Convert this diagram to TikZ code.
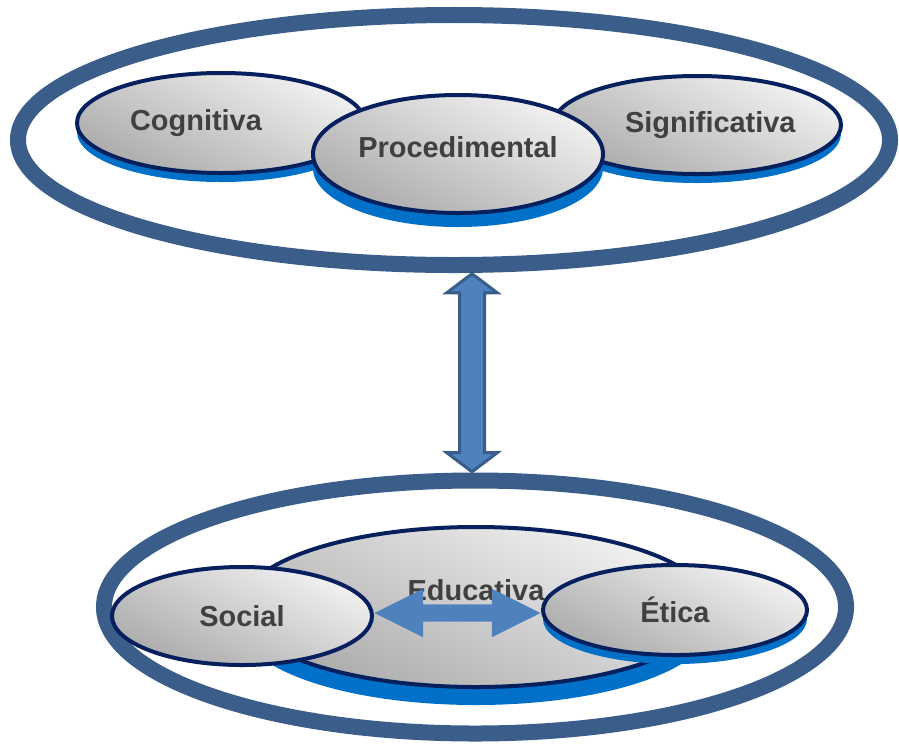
\documentclass[tikz,border=0pt]{standalone}
\usepackage{fontspec}
\setmainfont{Liberation Sans}
\usetikzlibrary{shapes.geometric,shapes.arrows,shadows}

\definecolor{ringblue}{HTML}{3A5D8A}
\definecolor{navyline}{HTML}{06205E}
\definecolor{shadowblue}{HTML}{0070C8}
\definecolor{arrowfill}{HTML}{4F81BD}
\definecolor{arrowline}{HTML}{385D8A}
\definecolor{textgray}{HTML}{404040}

\begin{document}
\begin{tikzpicture}[x=0.03cm, y=-0.03cm,
        ring/.style = {ellipse, draw=ringblue, line width=0.48cm,
            fill=white, inner sep=0},
        level/.style = {ellipse, draw=navyline, line width=0.12cm,
            inner sep=0, top color=black!5, bottom color=black!33,
            shading angle=-25, text=textgray,
            font=\bfseries\fontsize{24.7}{29}\selectfont},
        lift/.style = {drop shadow={shadow xshift=0pt,
            shadow yshift=-#1, fill=shadowblue, opacity=1}},
        lift/.default = 0.27cm,
        link/.style = {double arrow, draw=arrowline, fill=arrowfill,
            line width=0.09cm, inner xsep=0, inner ysep=0.33cm,
            double arrow head extend=0.39cm, double arrow tip angle=106},
        flatlink/.style = {double arrow, fill=arrowfill,
            inner xsep=0, inner ysep=0.255cm,
            double arrow head extend=0.465cm, double arrow tip angle=53}]

    \useasboundingbox (0,0) rectangle (899,746);

    % Upper ring
    \node[ring, minimum width=26.16cm, minimum height=7.5cm] (upper) at (454,140) {};
    \node[level, lift, minimum width=8.64cm, minimum height=3cm] (cog) at (221,123) {Cognitiva\hspace*{1.5cm}};
    \node[level, lift, minimum width=8.64cm, minimum height=2.94cm] (sig) at (697,125) {\hspace*{0.8cm}Significativa};
    \node[level, lift=0.42cm, minimum width=8.7cm, minimum height=3.54cm] (proc) at (458,154) {\raisebox{0.42cm}{Procedimental}};

    % Lower ring
    \node[ring, minimum width=22.26cm, minimum height=7.59cm] (lower) at (475,607) {};
    \node[level, lift=0.54cm, minimum width=14.1cm, minimum height=4.8cm] (edu) at (476,607) {};
    \node[text=textgray, font=\bfseries\fontsize{24.7}{29}\selectfont] (edulbl) at ([yshift=0.51cm]edu.center) {Educativa};
    \node[level, minimum width=7.8cm, minimum height=2.94cm] (soc) at (242,616) {Social};
    \node[level, lift, minimum width=7.92cm, minimum height=2.7cm] (eti) at (675,610) {Ética};

    % Links
    \path ([xshift=0.54cm]upper.south) -- ([xshift=-0.09cm]lower.north)
        node[midway, link, rotate=90, minimum height=5.94cm] (vlink) {};
    \path (soc.east) -- (eti.west)
        node[midway, flatlink, minimum height=4.98cm] (hlink) {};

\end{tikzpicture}
\end{document}
